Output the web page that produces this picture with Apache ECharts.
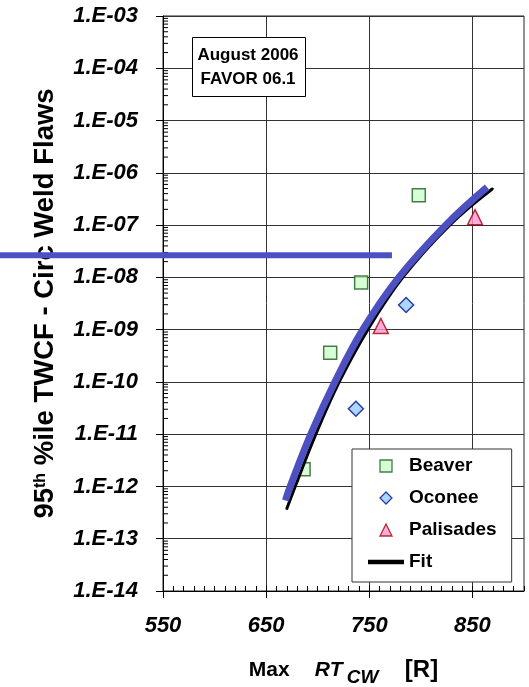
<!DOCTYPE html>
<html>
<head>
<meta charset="utf-8">
<script src="https://cdn.jsdelivr.net/npm/echarts@6/dist/echarts.min.js"></script>
<style>
  html, body { margin: 0; padding: 0; background: #fff; }
  #chart { width: 529px; height: 687px; }
</style>
</head>
<body>
<div id="chart"></div>
<script>
const FONT = "'Liberation Sans', Arial, sans-serif"

// x tick labels
const xTicks = [550, 650, 750, 850]

// plant data: [Max RT_CW, 95th %ile TWCF]
const beaver = [[686.3, 2.13e-12], [712.1, 3.6e-10], [742.1, 8.0e-9], [798, 3.72e-7]]
const oconee = [[737, 3.07e-11], [785.7, 2.96e-9]]
const palisades = [[761.2, 1.18e-9], [852.5, 1.42e-7]]

// fitted curve (black) and hand-drawn overlay (blue)
const fitCurve = [[670.1, 3.8e-13], [678.2, 1e-12], [698.2, 1e-11], [720.9, 1e-10],
  [748.6, 1e-9], [782.5, 1e-8], [828.0, 1e-7], [869.2, 4.9e-7]]
const blueCurve = [[668.7, 5.4e-13], [673.3, 1e-12], [693.3, 1e-11], [716.7, 1e-10],
  [743.7, 1e-9], [778.6, 1e-8], [824.1, 1e-7], [864.2, 5.3e-7]]
// horizontal blue level line, runs off the left of the plot
const blueLevel = [[392, 2.64e-8], [772, 2.64e-8]]

// log minor ticks (2..9 per decade)
const yMinor = []
for (let e = -14; e < -3; e++) {
  for (let m = 2; m <= 9; m++) yMinor.push([550, m * Math.pow(10, e)])
}

function fmtExp(v) {
  const e = Math.round(Math.log10(v))
  return '1.E' + (e < 0 ? '-' : '+') + String(Math.abs(e)).padStart(2, '0')
}

const chart = echarts.init(document.getElementById('chart'))

const tickFont = { fontSize: 22, fontWeight: 'bold', fontStyle: 'italic', color: '#000', fontFamily: FONT }
const nameTok = (size, italic, extra) => Object.assign({
  fontSize: size, fontWeight: 'bold', fontStyle: italic ? 'italic' : 'normal',
  fontFamily: FONT, color: '#000', align: 'left', lineHeight: 24
}, extra)

chart.setOption({
  animation: false,
  backgroundColor: '#fff',
  grid: [
    { left: 163, right: 5, top: 16, bottom: 96, show: true, borderColor: '#222', borderWidth: 1, outerBoundsMode: 'none', containLabel: false },
    { left: 0, right: 5, top: 16, bottom: 96, show: false, outerBoundsMode: 'none', containLabel: false }
  ],
  xAxis: [{
    type: 'value', min: 550, max: 900, interval: 100,
    axisLine: { lineStyle: { color: '#000', width: 1 } },
    axisTick: { length: 7, lineStyle: { color: '#000' }, customValues: xTicks },
    axisLabel: Object.assign({ margin: 24, customValues: xTicks }, tickFont),
    splitLine: { lineStyle: { color: '#333', width: 1 } },
    name: '{a|Max}{b|RT}{c|CW}{d|[R]}',
    nameLocation: 'middle',
    nameGap: 67,
    nameTextStyle: {
      color: '#000', fontFamily: FONT, fontWeight: 'bold',
      rich: {
        a: nameTok(21, false, { width: 66 }),
        b: nameTok(21, true, { width: 32 }),
        c: nameTok(19, true, { width: 58, padding: [15, 0, 0, 0] }),
        d: nameTok(24, false, {})
      }
    }
  }, {
    type: 'value', min: 550, max: 900, interval: 10, position: 'bottom',
    axisLine: { show: false },
    axisTick: { inside: true, length: 5, lineStyle: { color: '#000' } },
    axisLabel: { show: false },
    splitLine: { show: false }
  }, {
    type: 'value', gridIndex: 1, min: 392, max: 900, show: false
  }],
  yAxis: [{
    type: 'log', logBase: 10, min: 1e-14, max: 1e-3, interval: 1,
    axisLine: { lineStyle: { color: '#000', width: 1 } },
    axisTick: { length: 7, lineStyle: { color: '#000' } },
    axisLabel: Object.assign({ margin: 25, formatter: fmtExp }, tickFont),
    splitLine: { lineStyle: { color: '#333', width: 1 } },
    name: '{n|95}{s|th}{n| %ile TWCF - Circ Weld Flaws}',
    nameLocation: 'middle',
    nameGap: 103,
    nameTextStyle: {
      color: '#000', fontFamily: FONT, fontWeight: 'bold',
      rich: {
        n: { fontSize: 27.5, fontWeight: 'bold', fontFamily: FONT, color: '#000', lineHeight: 30 },
        s: { fontSize: 16, fontWeight: 'bold', fontFamily: FONT, color: '#000', lineHeight: 30, padding: [0, 0, 8, 0] }
      }
    }
  }, {
    type: 'log', logBase: 10, gridIndex: 1, min: 1e-14, max: 1e-3, show: false
  }],
  legend: {
    data: [
      { name: 'Beaver', icon: 'path://M0,0L1,0L1,1L0,1Z' },
      { name: 'Oconee', icon: 'path://M0.5,0L1,0.5L0.5,1L0,0.5Z' },
      { name: 'Palisades', icon: 'path://M0.5,0L1,1L0,1Z' },
      { name: 'Fit', icon: 'path://M0,0L36,0L36,4.5L0,4.5Z', itemStyle: { color: '#000', borderWidth: 0 } }
    ],
    orient: 'vertical',
    left: 352, top: 449,
    padding: [7, 15, 10, 16],
    itemWidth: 36, itemHeight: 12, itemGap: 12,
    symbolKeepAspect: true,
    backgroundColor: '#fff', borderColor: '#333', borderWidth: 1, borderRadius: 0,
    itemStyle: { borderWidth: 1.3 },
    textStyle: { fontSize: 19, fontWeight: 'bold', color: '#000', fontFamily: FONT, lineHeight: 20 },
    selectedMode: false,
    z: 10
  },
  graphic: [{
    type: 'group', left: 192, top: 37, z: 100,
    children: [
      { type: 'rect', z: 100, shape: { x: 0.5, y: 0.5, width: 113, height: 59 },
        style: { fill: '#fff', stroke: '#000', lineWidth: 1 } },
      { type: 'text', z: 101, x: 56, y: 30,
        style: { text: 'August 2006\nFAVOR 06.1', fontSize: 17, fontWeight: 'bold', fontFamily: FONT,
          fill: '#000', align: 'center', verticalAlign: 'middle', lineHeight: 24 } }
    ]
  }],
  series: [
    {
      type: 'custom', silent: true, z: 1, clip: false,
      data: yMinor,
      renderItem: (params, api) => {
        const p = api.coord([api.value(0), api.value(1)])
        return { type: 'line', shape: { x1: p[0], y1: p[1], x2: p[0] + 5, y2: p[1] },
          style: { stroke: '#000', lineWidth: 1 } }
      }
    },
    {
      name: 'Beaver', type: 'scatter', data: beaver, symbol: 'rect', symbolSize: 13, z: 2,
      itemStyle: { color: '#ccffcc', borderColor: '#1e5a1e', borderWidth: 1.5 }
    },
    {
      name: 'Oconee', type: 'scatter', data: oconee, symbol: 'diamond', symbolSize: 15, z: 2,
      itemStyle: { color: '#99ccff', borderColor: '#00128a', borderWidth: 1.5 }
    },
    {
      name: 'Palisades', type: 'scatter', data: palisades, symbol: 'triangle', symbolSize: 15, z: 2,
      itemStyle: { color: '#ff99cc', borderColor: '#a00010', borderWidth: 1.5 }
    },
    {
      name: 'Fit', type: 'line', data: fitCurve, smooth: 0.4, symbol: 'none', z: 3,
      lineStyle: { color: '#000', width: 3, cap: 'round' }
    },
    {
      name: 'overlay', type: 'line', data: blueCurve, smooth: 0.4, symbol: 'none', z: 4,
      lineStyle: { color: '#4d50c1', width: 7, cap: 'butt' }
    },
    {
      name: 'level', type: 'line', xAxisIndex: 2, yAxisIndex: 1, data: blueLevel, symbol: 'none', z: 4,
      lineStyle: { color: '#4d50c1', width: 6, cap: 'butt' }
    }
  ]
})
</script>
</body>
</html>
